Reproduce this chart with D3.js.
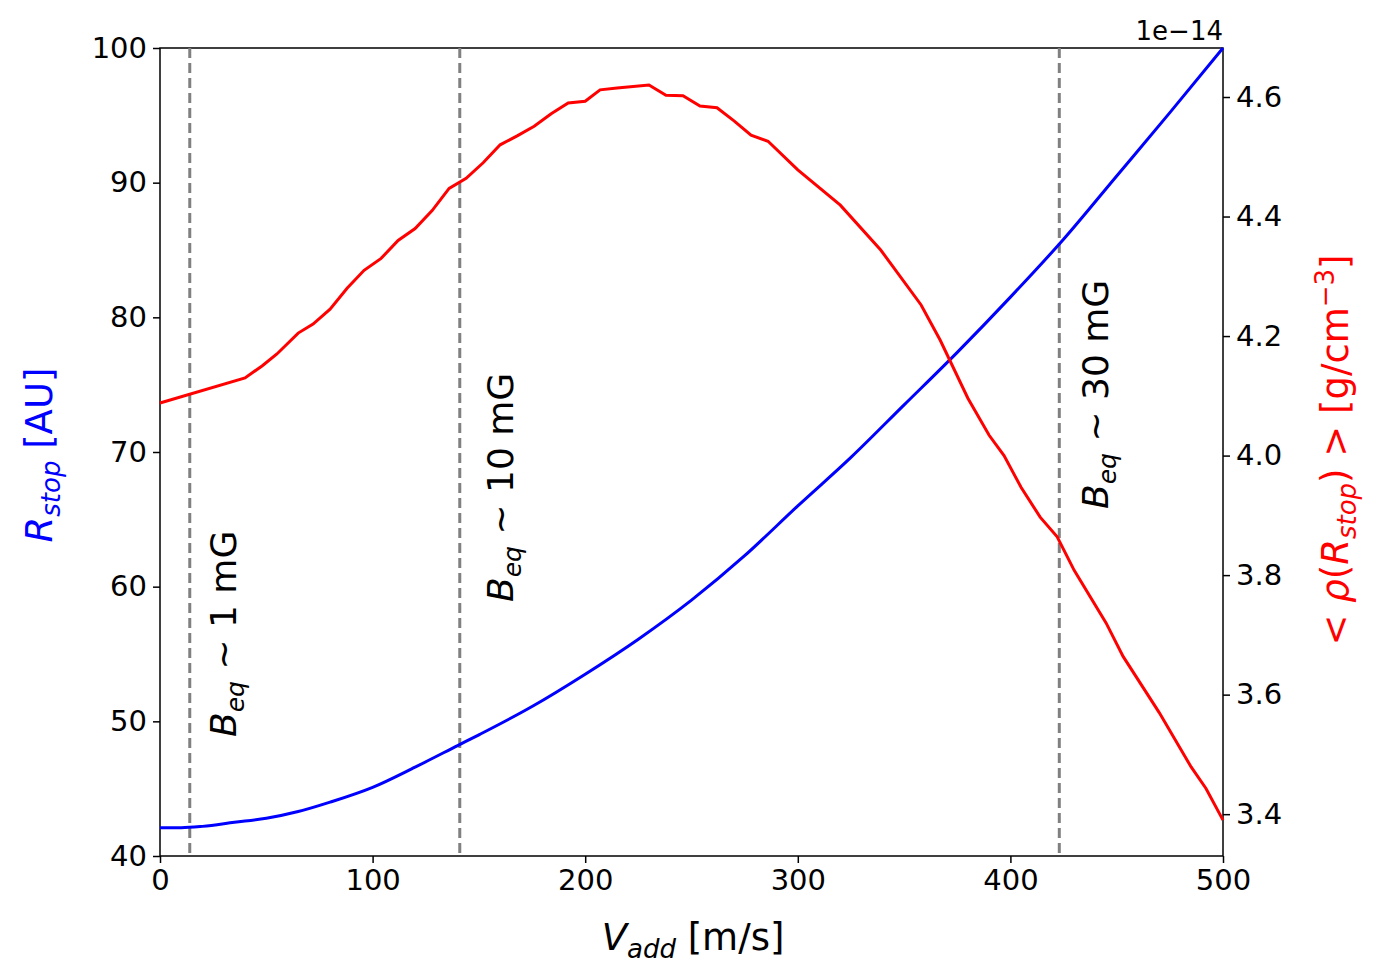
<!DOCTYPE html>
<meta charset="utf-8">
<html>
<head>
<style>
  body { margin: 0; background: #fff; }
  text { font-family: "DejaVu Sans", sans-serif; }
</style>
</head>
<body>
<div id="chart"></div>
<script src="https://d3js.org/d3.v7.min.js"></script>
<script>
// R_stop vs V_add
var vBlue = [0, 10, 20, 35, 50, 65, 80, 100, 120, 140, 150, 175, 200, 225, 250, 275, 300, 325, 350, 375, 400, 425, 450, 475, 500];
var rStop = [42.1, 42.1, 42.2, 42.5, 42.8, 43.3, 44.0, 45.1, 46.6, 48.2, 49.0, 51.1, 53.5, 56.1, 59.0, 62.3, 66.0, 69.6, 73.5, 77.4, 81.5, 85.8, 90.5, 95.2, 100];
// <rho(R_stop)> vs V_add (x 1e-14)
var vRed = [0, 40, 48, 55, 65, 72, 80, 88, 96, 104, 112, 120, 128, 136, 144, 152, 160, 168, 176, 184, 192, 200, 207, 215, 230, 238, 246, 254, 262, 270, 278, 286, 300, 320, 339, 358, 367, 380, 390, 397, 405, 414, 422, 430, 445, 453, 470, 485, 492, 500];
var rho = [4.088, 4.13, 4.15, 4.17, 4.205, 4.22, 4.245, 4.28, 4.31, 4.33, 4.36, 4.38, 4.41, 4.447, 4.464, 4.49, 4.52, 4.535, 4.551, 4.572, 4.59, 4.593, 4.612, 4.615, 4.62, 4.603, 4.602, 4.585, 4.582, 4.56, 4.536, 4.526, 4.478, 4.419, 4.344, 4.252, 4.193, 4.096, 4.034, 4.0, 3.947, 3.897, 3.864, 3.808, 3.72, 3.664, 3.57, 3.479, 3.443, 3.39];
var bLines = [14, 141, 423];
var bLabels = [" ~ 1 mG", " ~ 10 mG", " ~ 30 mG"];

var W = 1380, H = 979;
var svg = d3.select("#chart").append("svg").attr("width", W).attr("height", H);

var x = d3.scaleLinear().domain([0, 500]).range([160, 1223]);
var yL = d3.scaleLinear().domain([40, 100]).range([856, 48]);
var yR = d3.scaleLinear().domain([3.33, 4.682]).range([856, 48]);

svg.append("g").attr("transform", "translate(0,856)")
  .call(d3.axisBottom(x).tickValues([0, 100, 200, 300, 400, 500]).tickSizeOuter(0).tickSize(7).tickPadding(6));
svg.append("g").attr("transform", "translate(160,0)")
  .call(d3.axisLeft(yL).tickValues([40, 50, 60, 70, 80, 90, 100]).tickSizeOuter(0).tickSize(7).tickPadding(6));
svg.append("g").attr("transform", "translate(1223,0)")
  .call(d3.axisRight(yR).tickValues([3.4, 3.6, 3.8, 4.0, 4.2, 4.4, 4.6]).tickFormat(d3.format(".1f")).tickSizeOuter(0).tickSize(7).tickPadding(6));
svg.selectAll(".domain").remove();
svg.selectAll(".tick text").attr("font-size", 29).attr("font-family", "DejaVu Sans");
svg.append("rect").attr("x", 160).attr("y", 48).attr("width", 1063).attr("height", 808)
  .attr("fill", "none").attr("stroke", "#000").attr("stroke-width", 1.5);
svg.selectAll(".tick line").attr("stroke-width", 1.5);

bLines.forEach(function(v) {
  svg.append("line").attr("x1", x(v)).attr("x2", x(v)).attr("y1", 48).attr("y2", 856)
    .attr("stroke", "#808080").attr("stroke-width", 3).attr("stroke-dasharray", "10,5");
});

svg.append("path").datum(d3.zip(vBlue, rStop))
  .attr("d", d3.line().curve(d3.curveMonotoneX).x(function(d) { return x(d[0]); }).y(function(d) { return yL(d[1]); }))
  .attr("fill", "none").attr("stroke", "blue").attr("stroke-width", 3);
svg.append("path").datum(d3.zip(vRed, rho))
  .attr("d", d3.line().x(function(d) { return x(d[0]); }).y(function(d) { return yR(d[1]); }))
  .attr("fill", "none").attr("stroke", "red").attr("stroke-width", 3);

var labPos = [[236, 737], [513, 602], [1108, 509]];
bLabels.forEach(function(s, i) {
  var t = svg.append("text").attr("transform", "translate(" + labPos[i][0] + "," + labPos[i][1] + ") rotate(-90)")
    .attr("font-size", 36);
  t.append("tspan").attr("font-style", "italic").text("B");
  t.append("tspan").attr("font-style", "italic").attr("font-size", 25).attr("dy", 8).text("eq");
  t.append("tspan").attr("dy", -8).text(s);
});

// axis labels
var xl = svg.append("text").attr("x", 693).attr("y", 950).attr("text-anchor", "middle").attr("font-size", 37);
xl.append("tspan").attr("font-style", "italic").text("V");
xl.append("tspan").attr("font-style", "italic").attr("font-size", 26).attr("dy", 8).text("add");
xl.append("tspan").attr("dy", -8).text(" [m/s]");

var yl = svg.append("text").attr("transform", "translate(52,455) rotate(-90)").attr("text-anchor", "middle")
  .attr("font-size", 37).attr("fill", "blue");
yl.append("tspan").attr("font-style", "italic").text("R");
yl.append("tspan").attr("font-style", "italic").attr("font-size", 26).attr("dy", 8).text("stop");
yl.append("tspan").attr("dy", -8).text(" [AU]");

var yr = svg.append("text").attr("transform", "translate(1348,450) rotate(-90)").attr("text-anchor", "middle")
  .attr("font-size", 37).attr("fill", "red");
yr.append("tspan").text("< ");
yr.append("tspan").attr("font-style", "italic").text("ρ");
yr.append("tspan").text("(");
yr.append("tspan").attr("font-style", "italic").text("R");
yr.append("tspan").attr("font-style", "italic").attr("font-size", 26).attr("dy", 8).text("stop");
yr.append("tspan").attr("dy", -8).text(") > [g/cm");
yr.append("tspan").attr("font-size", 26).attr("dy", -14).text("−3");
yr.append("tspan").attr("dy", 14).text("]");

svg.append("text").attr("x", 1223).attr("y", 40).attr("text-anchor", "end").attr("font-size", 26).text("1e−14");
</script>
</body>
</html>
